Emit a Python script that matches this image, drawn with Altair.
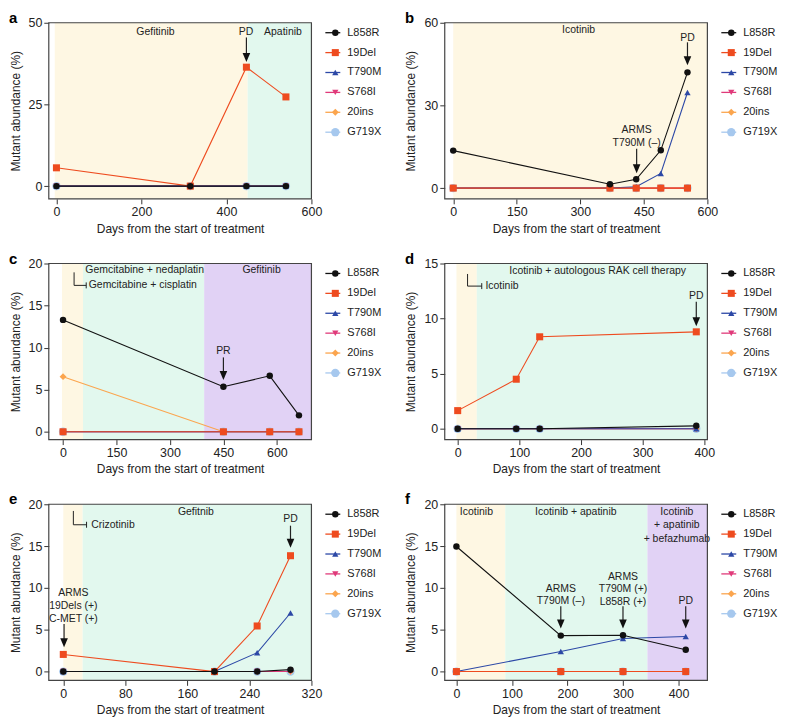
import altair as alt
import pandas as pd

FONT = "Liberation Sans"

SERIES = ["L858R", "19Del", "T790M", "S768I", "20ins", "G719X"]
SERIES_COLORS = ["#111111", "#EE4B1F", "#2C48A6", "#E03A7A", "#FBA54E", "#A6C8EE"]
SERIES_SHAPES = ["circle", "square", "triangle-up", "triangle-down", "diamond", "circle"]
SERIES_SIZES = [42, 50, 40, 40, 48, 70]
DRAW_ORDER = ["G719X", "20ins", "S768I", "T790M", "19Del", "L858R"]

YELLOW, MINT, PURPLE = "#FEF7E3", "#E2F8EE", "#E1D2F5"

# ---------------- panel a ----------------
a_days = [0, 315, 447, 540]
a_L858R = [0, 0, 0, 0]
a_19Del = [5.6, 0, 36.4, 27.3]
a_T790M = [0, 0, 0, 0]
a_S768I = [0, 0, 0, 0]
a_20ins = [0, 0, 0, 0]
a_G719X = [0, 0, 0, 0]
a_xdomain = [-18, 600]
a_xticks = [0, 200, 400, 600]
a_ydomain = [-3.9, 50]
a_yticks = [0, 25, 50]
a_shade_start = [-4, 450]
a_shade_end = [450, 600]
a_shade_color = [YELLOW, MINT]
a_label_text = ["Gefitinib", "Apatinib"]
a_label_x = [233, 533]
a_label_y = [47.1, 47.1]
a_arrow_text = ["PD"]
a_arrow_tx = [446]
a_arrow_ty = [47.1]
a_arrow_ax = [447]
a_arrow_ay = [45.5]
a_arrow_tip = [38.0]
a_bracket_x1, a_bracket_x2, a_bracket_y1, a_bracket_y2, a_bracket_text, a_bracket_tx = [], [], [], [], [], []

# ---------------- panel b ----------------
b_days = [0, 370, 432, 490, 553]
b_L858R = [13.6, 1.4, 3.2, 13.7, 42.0]
b_19Del = [0, 0, 0, 0, 0]
b_T790M = [0, 0, 0.5, 5.3, 34.7]
b_S768I = [0, 0, 0, 0, 0]
b_20ins = [0, 0, 0, 0, 0]
b_G719X = [0, 0, 0, 0, 0]
b_xdomain = [-20, 600]
b_xticks = [0, 150, 300, 450, 600]
b_ydomain = [-3.9, 60]
b_yticks = [0, 30, 60]
b_shade_start = [0]
b_shade_end = [600]
b_shade_color = [YELLOW]
b_label_text = ["Icotinib"]
b_label_x = [296]
b_label_y = [57.5]
b_arrow_text = ["ARMS\nT790M (–)", "PD"]
b_arrow_tx = [433, 553]
b_arrow_ty = [20.9, 54.3]
b_arrow_ax = [433, 553]
b_arrow_ay = [14.3, 52.9]
b_arrow_tip = [5.4, 44.6]
b_bracket_x1, b_bracket_x2, b_bracket_y1, b_bracket_y2, b_bracket_text, b_bracket_tx = [], [], [], [], [], []

# ---------------- panel c ----------------
c_days = [0, 450, 580, 662]
c_L858R = [13.3, 5.35, 6.65, 1.95]
c_19Del = [0, 0, 0, 0]
c_T790M = [0, 0, 0, 0]
c_S768I = [0, 0, 0, 0]
c_20ins = [6.55, 0, 0, 0]
c_G719X = [0, 0, 0, 0]
c_xdomain = [-40, 697]
c_xticks = [0, 150, 300, 450, 600]
c_ydomain = [-0.93, 20]
c_yticks = [0, 5, 10, 15, 20]
c_shade_start = [-3, 56, 396]
c_shade_end = [56, 396, 697]
c_shade_color = [YELLOW, MINT, PURPLE]
c_label_text = ["Gemcitabine + nedaplatin", "Gefitinib"]
c_label_x = [229, 557]
c_label_y = [19.2, 19.2]
c_arrow_text = ["PR"]
c_arrow_tx = [450]
c_arrow_ty = [9.65]
c_arrow_ax = [450]
c_arrow_ay = [8.84]
c_arrow_tip = [6.15]
c_bracket_x1 = [31]
c_bracket_x2 = [65]
c_bracket_y1 = [18.95]
c_bracket_y2 = [17.4]
c_bracket_text = ["Gemcitabine + cisplatin"]
c_bracket_tx = [72]

# ---------------- panel d ----------------
d_days = [0, 95, 133, 387]
d_L858R = [0, 0, 0, 0.27]
d_19Del = [1.65, 4.5, 8.35, 8.8]
d_T790M = [0, 0, 0, 0]
d_S768I = [0, 0, 0, 0]
d_20ins = [0, 0, 0, 0]
d_G719X = [0, 0, 0, 0]
d_xdomain = [-21, 405]
d_xticks = [0, 100, 200, 300, 400]
d_ydomain = [-0.98, 15]
d_yticks = [0, 5, 10, 15]
d_shade_start = [-2, 31]
d_shade_end = [31, 405]
d_shade_color = [YELLOW, MINT]
d_label_text = ["Icotinib + autologous RAK cell therapy"]
d_label_x = [227]
d_label_y = [14.3]
d_arrow_text = ["PD"]
d_arrow_tx = [387]
d_arrow_ty = [12.07]
d_arrow_ax = [387]
d_arrow_ay = [11.53]
d_arrow_tip = [9.3]
d_bracket_x1 = [16]
d_bracket_x2 = [39]
d_bracket_y1 = [14.05]
d_bracket_y2 = [12.95]
d_bracket_text = ["Icotinib"]
d_bracket_tx = [45]

# ---------------- panel e ----------------
e_days = [0, 195, 250, 293]
e_L858R = [0, 0, 0, 0.23]
e_19Del = [2.05, 0, 5.45, 13.85]
e_T790M = [0, 0, 2.25, 7.0]
e_S768I = [0, 0, 0, 0]
e_20ins = [0, 0, 0, 0]
e_G719X = [0, 0, 0, 0]
e_xdomain = [-18.7, 320]
e_xticks = [0, 80, 160, 240, 320]
e_ydomain = [-1.05, 20]
e_yticks = [0, 5, 10, 15, 20]
e_shade_start = [0, 25]
e_shade_end = [25, 320]
e_shade_color = [YELLOW, MINT]
e_label_text = ["Gefitnib"]
e_label_x = [171]
e_label_y = [19.1]
e_arrow_text = ["PD", "ARMS\n19Dels (+)\nC-MET (+)"]
e_arrow_tx = [293, 13]
e_arrow_ty = [18.25, 9.34]
e_arrow_ax = [293, 1]
e_arrow_ay = [17.44, 5.7]
e_arrow_tip = [14.8, 2.9]
e_bracket_x1 = [13]
e_bracket_x2 = [30]
e_bracket_y1 = [19.2]
e_bracket_y2 = [17.55]
e_bracket_text = ["Crizotinib"]
e_bracket_tx = [36]

# ---------------- panel f ----------------
f_days = [0, 188, 300, 413]
f_L858R = [14.95, 4.3, 4.35, 2.6]
f_19Del = [0, 0, 0, 0]
f_T790M = [0, 2.4, 3.95, 4.2]
f_S768I = [0, 0, 0, 0]
f_20ins = [0, 0, 0, 0]
f_G719X = [0, 0, 0, 0]
f_xdomain = [-21, 452]
f_xticks = [0, 100, 200, 300, 400]
f_ydomain = [-1.05, 20]
f_yticks = [0, 5, 10, 15, 20]
f_shade_start = [0, 88, 344]
f_shade_end = [88, 344, 452]
f_shade_color = [YELLOW, MINT, PURPLE]
f_label_text = ["Icotinib", "Icotinib + apatinib", "Icotinib\n+ apatinib\n+ befazhumab"]
f_label_x = [36, 215, 397]
f_label_y = [19.1, 19.1, 19.1]
f_arrow_text = ["ARMS\nT790M (–)", "ARMS\nT790M (+)\nL858R (+)", "PD"]
f_arrow_tx = [188, 300, 413]
f_arrow_ty = [9.92, 11.36, 8.49]
f_arrow_ax = [188, 300, 413]
f_arrow_ay = [7.8, 7.8, 7.8]
f_arrow_tip = [5.15, 5.15, 5.15]
f_bracket_x1, f_bracket_x2, f_bracket_y1, f_bracket_y2, f_bracket_text, f_bracket_tx = [], [], [], [], [], []

W, H = 264, 177
LEG_W = 106
LEG_W_LAST = 60
SPACING = 14
ROW_SPACING = 16
ANN_SIZE = 10.5
ARROW_PATH = "M-0.85,-1L0.85,-1L0,1Z"


def letter_mark(letter, opacity):
    lt = pd.DataFrame({"t": [letter]})
    return alt.Chart(lt).mark_text(fontSize=15, fontWeight="bold", align="left", baseline="middle",
                                   color="#000", opacity=opacity).encode(
        x=alt.value(-40), y=alt.value(-5), text="t:N")


def panel(letter, g):
    days = g["days"]
    xs = alt.Scale(domain=g["xdomain"], nice=False, zero=False)
    ys = alt.Scale(domain=g["ydomain"], nice=False, zero=False)
    xaxis = alt.Axis(values=g["xticks"], format="d")
    yaxis = alt.Axis(values=g["yticks"], format="d")
    XT = "Days from the start of treatment"
    YT = "Mutant abundance (%)"

    def X(f):
        return alt.X(f, type="quantitative", scale=xs, axis=xaxis, title=XT)

    def Y(f):
        return alt.Y(f, type="quantitative", scale=ys, axis=yaxis, title=YT)

    layers = []
    shade = pd.DataFrame({"s": g["shade_start"], "e": g["shade_end"], "c": g["shade_color"],
                          "lo": g["ydomain"][0], "hi": g["ydomain"][1]})
    layers.append(alt.Chart(shade).mark_rect().encode(
        x=X("s"), x2="e", y=Y("lo"), y2="hi", color=alt.Color("c:N", scale=None)))

    rows = []
    for s in SERIES:
        for d, v in zip(days, g[s]):
            rows.append({"day": d, "val": v, "series": s})
    long = pd.DataFrame(rows)
    for s in DRAW_ORDER:
        i = SERIES.index(s)
        base = alt.Chart(long).transform_filter(alt.datum.series == s)
        layers.append(base.mark_line(color=SERIES_COLORS[i], strokeWidth=1.1).encode(
            x=X("day"), y=Y("val")))
        layers.append(base.mark_point(filled=True, opacity=1, shape=SERIES_SHAPES[i],
                                      size=SERIES_SIZES[i], color=SERIES_COLORS[i]).encode(
            x=X("day"), y=Y("val")))

    lab = pd.DataFrame({"t": g["label_text"], "x": g["label_x"], "y": g["label_y"]})
    layers.append(alt.Chart(lab).mark_text(fontSize=ANN_SIZE, baseline="middle", align="center",
                                           lineBreak="\n", lineHeight=13.5, color="#222").encode(
        x=X("x"), y=Y("y"), text="t:N"))

    if g["bracket_text"]:
        br = pd.DataFrame({"x1": g["bracket_x1"], "x2": g["bracket_x2"], "y1": g["bracket_y1"],
                           "y2": g["bracket_y2"], "t": g["bracket_text"], "tx": g["bracket_tx"]})
        layers.append(alt.Chart(br).mark_rule(color="#222", strokeWidth=1).encode(
            x=X("x1"), y=Y("y1"), y2="y2"))
        layers.append(alt.Chart(br).mark_rule(color="#222", strokeWidth=1).encode(
            x=X("x1"), x2="x2", y=Y("y2")))
        layers.append(alt.Chart(br).mark_rule(color="#222", strokeWidth=1, yOffset=-3, y2Offset=3).encode(
            x=X("x2"), y=Y("y2"), y2="y2"))
        layers.append(alt.Chart(br).mark_text(fontSize=ANN_SIZE, baseline="middle", align="left",
                                              color="#222").encode(x=X("tx"), y=Y("y2"), text="t:N"))

    arr = pd.DataFrame({"t": g["arrow_text"], "tx": g["arrow_tx"], "ty": g["arrow_ty"],
                        "ax": g["arrow_ax"], "ay": g["arrow_ay"], "tip": g["arrow_tip"]})
    layers.append(alt.Chart(arr).mark_rule(color="#222", strokeWidth=1.2, y2Offset=-7).encode(
        x=X("ax"), y=Y("ay"), y2="tip"))
    layers.append(alt.Chart(arr).mark_point(shape=ARROW_PATH, filled=True, size=81, opacity=1,
                                            color="#111", yOffset=-4.5).encode(x=X("ax"), y=Y("tip")))
    layers.append(alt.Chart(arr).mark_text(fontSize=ANN_SIZE, baseline="middle", align="center",
                                           lineBreak="\n", lineHeight=12.7, color="#222").encode(
        x=X("tx"), y=Y("ty"), text="t:N"))

    frame = pd.DataFrame({"x1": [g["xdomain"][0]], "x2": [g["xdomain"][1]],
                          "y1": [g["ydomain"][0]], "y2": [g["ydomain"][1]]})
    layers.append(alt.Chart(frame).mark_rect(fill="transparent", stroke="#444", strokeWidth=1.2).encode(
        x=X("x1"), x2="x2", y=Y("y1"), y2="y2"))

    layers.append(letter_mark(letter, 1))

    return alt.layer(*layers).properties(width=W, height=H)


def legend(width, letter):
    df = pd.DataFrame({"series": SERIES, "idx": list(range(len(SERIES))), "c": SERIES_COLORS,
                       "shape": SERIES_SHAPES, "size": SERIES_SIZES, "x1": 0, "x2": 15, "xm": 10, "xt": 22})
    xs = alt.Scale(domain=[0, width], nice=False, zero=False)
    ys = alt.Scale(domain=[-0.5, -0.5 + H / 20.0], nice=False, zero=False, reverse=True)
    r = alt.Chart(df).mark_rule(strokeWidth=1.3).encode(
        x=alt.X("x1:Q", scale=xs, axis=None), x2="x2",
        y=alt.Y("idx:Q", scale=ys, axis=None), color=alt.Color("c:N", scale=None))
    p = alt.Chart(df).mark_point(filled=True, opacity=1).encode(
        x=alt.X("xm:Q", scale=xs, axis=None), y=alt.Y("idx:Q", scale=ys, axis=None),
        color=alt.Color("c:N", scale=None), shape=alt.Shape("shape:N", scale=None),
        size=alt.Size("size:Q", scale=None))
    t = alt.Chart(df).mark_text(align="left", baseline="middle", fontSize=11, color="#222").encode(
        x=alt.X("xt:Q", scale=xs, axis=None), y=alt.Y("idx:Q", scale=ys, axis=None), text="series:N")
    # invisible twin of the panel letter so that both views have the same top bound
    ghost = letter_mark(letter, 0)
    return alt.layer(r, p, t, ghost).properties(width=width, height=H,
                                                view=alt.ViewBackground(stroke="transparent"))


def gather(prefix):
    gl = globals()
    g = {}
    for k in ["days", "xdomain", "xticks", "ydomain", "yticks", "shade_start", "shade_end", "shade_color",
              "label_text", "label_x", "label_y", "arrow_text", "arrow_tx", "arrow_ty", "arrow_ax",
              "arrow_ay", "arrow_tip", "bracket_x1", "bracket_x2", "bracket_y1", "bracket_y2",
              "bracket_text", "bracket_tx"] + SERIES:
        g[k] = gl[prefix + "_" + k]
    return g


rows = []
for l1, l2 in [("a", "b"), ("c", "d"), ("e", "f")]:
    rows.append(alt.hconcat(panel(l1, gather(l1)), legend(LEG_W, l1), panel(l2, gather(l2)),
                            legend(LEG_W_LAST, l2), spacing=SPACING, bounds="flush"))

chart = alt.vconcat(*rows, spacing=ROW_SPACING).properties(padding=0).configure(font=FONT).configure_axis(
    labelFont=FONT, titleFont=FONT, labelFontSize=12.5, titleFontSize=12, titleFontWeight="normal",
    labelColor="#222", titleColor="#222", tickColor="#333", tickSize=5, domain=False, grid=False,
    labelPadding=2, labelFlush=False, labelOverlap=False
).configure_axisY(titlePadding=6).configure_axisX(titlePadding=5).configure_view(stroke="transparent")

chart.save("out.html", embed_options={"renderer": "svg", "actions": False})
